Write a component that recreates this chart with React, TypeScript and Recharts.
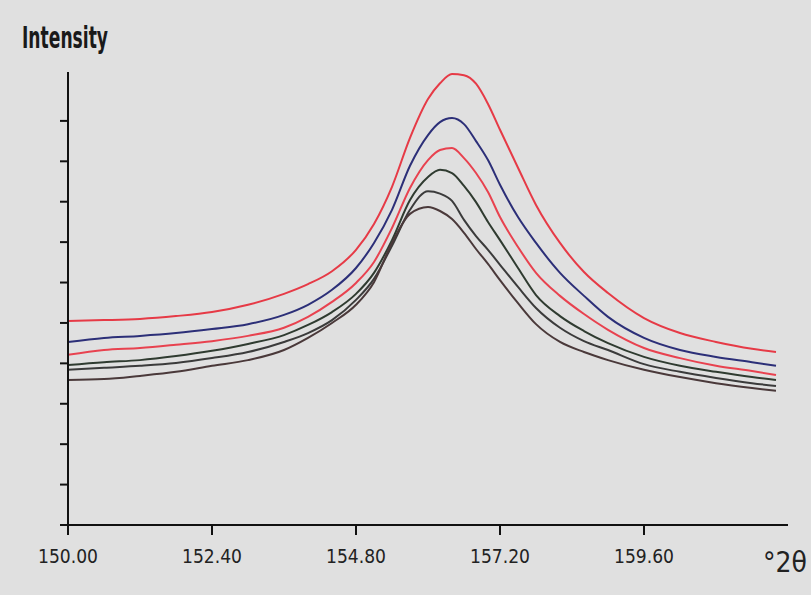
import React from 'react';
import { LineChart, Line, XAxis, YAxis } from 'recharts';

// Diffraction angle (°2θ) of each sample point
const angles = [
  150.0, 150.6, 151.2, 151.8, 152.4, 153.0, 153.6, 154.0, 154.4, 154.8,
  155.1, 155.4, 155.7, 156.0, 156.2, 156.4, 156.6, 156.8, 157.0, 157.2,
  157.5, 157.8, 158.2, 158.6, 159.0, 159.6, 160.2, 160.8, 161.4, 161.8,
];

// Intensity profiles, from the strongest scan to the weakest
const scanA = [
  505, 507, 510, 517, 527, 545, 572, 596, 628, 681,
  745, 837, 958, 1054, 1093, 1116, 1113, 1092, 1042, 978,
  884, 792, 698, 626, 574, 512, 475, 453, 436, 428,
];
const scanB = [
  453, 463, 468, 475, 485, 497, 520, 545, 582, 636,
  698, 780, 889, 965, 997, 1007, 992, 950, 903, 842,
  762, 698, 624, 567, 515, 463, 433, 416, 403, 394,
];
const scanC = [
  421, 433, 438, 446, 455, 468, 488, 515, 552, 599,
  651, 735, 834, 903, 928, 933, 908, 871, 824, 762,
  688, 624, 567, 522, 483, 438, 413, 394, 381, 371,
];
const scanD = [
  396, 403, 408, 418, 431, 448, 470, 495, 527, 572,
  624, 705, 804, 861, 879, 871, 839, 799, 750, 705,
  636, 569, 517, 480, 450, 416, 394, 379, 366, 359,
];
const scanE = [
  384, 389, 394, 401, 413, 428, 453, 475, 507, 557,
  609, 691, 780, 826, 820, 802, 755, 715, 681, 644,
  589, 537, 488, 455, 433, 398, 379, 364, 351, 344,
];
const scanF = [
  359, 361, 369, 379, 394, 408, 433, 463, 500, 545,
  601, 698, 770, 787, 777, 757, 723, 683, 646, 606,
  549, 497, 453, 428, 408, 384, 366, 351, 339, 332,
];

const xTicks = [150.0, 152.4, 154.8, 157.2, 159.6];
const yTicks = [0, 100, 200, 300, 400, 500, 600, 700, 800, 900, 1000];

const series = [
  { key: 'a', values: scanA, color: '#e63a46' },
  { key: 'b', values: scanB, color: '#2c2f78' },
  { key: 'c', values: scanC, color: '#e8424f' },
  { key: 'd', values: scanD, color: '#2f3b30' },
  { key: 'e', values: scanE, color: '#3b3b3b' },
  { key: 'f', values: scanF, color: '#4a393a' },
];

const data = angles.map((angle, i) => {
  const row: Record<string, number> = { angle };
  series.forEach((s) => {
    row[s.key] = s.values[i];
  });
  return row;
});

const labelFont = '"DejaVu Sans Condensed", "DejaVu Sans", sans-serif';

const XTick = (props: any) => {
  const { x, y, payload } = props;
  return (
    <g>
      <text
        x={x}
        y={y + 26}
        textAnchor="middle"
        fontFamily={labelFont}
        fontSize={20}
        fill="#222"
        textLength={60}
        lengthAdjust="spacingAndGlyphs"
      >
        {Number(payload.value).toFixed(2)}
      </text>
    </g>
  );
};

export default function App() {
  return (
    <div
      style={{
        position: 'absolute',
        left: 0,
        top: 0,
        width: 811,
        height: 595,
        background: '#e0e0e0',
      }}
    >
      <LineChart
        width={811}
        height={595}
        data={data}
        margin={{ top: 72, right: 23, bottom: 40, left: 8 }}
      >
        <XAxis
          dataKey="angle"
          type="number"
          domain={[150, 162]}
          ticks={xTicks}
          allowDataOverflow
          height={30}
          axisLine={{ stroke: '#111', strokeWidth: 2 }}
          tickLine={{ stroke: '#111', strokeWidth: 2 }}
          tickSize={10}
          tick={<XTick />}
        />
        <YAxis
          type="number"
          domain={[0, 1121]}
          ticks={yTicks}
          allowDataOverflow
          width={60}
          axisLine={{ stroke: '#111', strokeWidth: 2 }}
          tickLine={{ stroke: '#111', strokeWidth: 2 }}
          tickSize={8}
          tick={() => <g />}
        />
        {series.map((s) => (
          <Line
            key={s.key}
            dataKey={s.key}
            type="monotone"
            stroke={s.color}
            strokeWidth={2}
            dot={false}
            activeDot={false}
            isAnimationActive={false}
          />
        ))}
      </LineChart>
      <svg
        width={811}
        height={595}
        style={{ position: 'absolute', left: 0, top: 0, pointerEvents: 'none' }}
      >
        <text
          x={22}
          y={48}
          fontFamily={labelFont}
          fontWeight="bold"
          fontSize={30}
          fill="#1a1a1a"
          textLength={86}
          lengthAdjust="spacingAndGlyphs"
        >
          Intensity
        </text>
        <text
          x={763}
          y={572}
          fontFamily={labelFont}
          fontSize={28}
          fill="#222"
          textLength={44}
          lengthAdjust="spacingAndGlyphs"
        >
          °2θ
        </text>
      </svg>
    </div>
  );
}
